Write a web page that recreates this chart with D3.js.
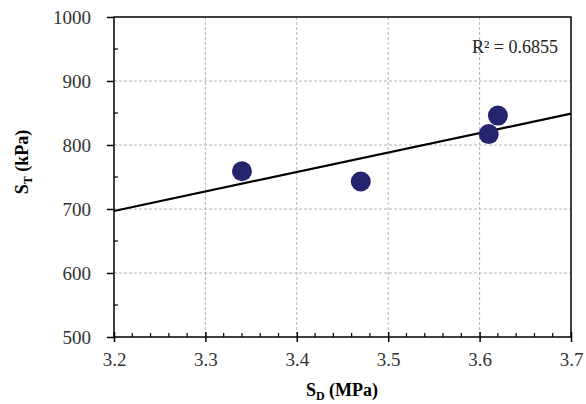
<!DOCTYPE html>
<html>
<head>
<meta charset="utf-8">
<script src="https://cdn.jsdelivr.net/npm/d3@7"></script>
<style>
  body { margin: 0; background: #fff; }
</style>
</head>
<body>
<svg width="586" height="404"></svg>
<script>
// data
var sd = [3.34, 3.47, 3.61, 3.62];     // MPa
var st = [759, 743, 817, 846];         // kPa
var xTicks = [3.2, 3.3, 3.4, 3.5, 3.6, 3.7];
var yTicks = [500, 600, 700, 800, 900, 1000];
var r2Label = "R² = 0.6855";

var serif = "'Liberation Serif', 'Times New Roman', serif";
var svg = d3.select("svg"),
    mLeft = 114, mRight = 571, mTop = 17, mBottom = 337;

var x = d3.scaleLinear().domain([3.2, 3.7]).range([mLeft, mRight]),
    y = d3.scaleLinear().domain([500, 1000]).range([mBottom, mTop]);

// grid
svg.append("g").selectAll("line")
  .data(xTicks.slice(1, -1)).enter().append("line")
  .attr("x1", d => x(d)).attr("x2", d => x(d))
  .attr("y1", mTop).attr("y2", mBottom)
  .attr("stroke", "#b4b4b4").attr("stroke-dasharray", "3,2");
svg.append("g").selectAll("line")
  .data(yTicks.slice(1, -1)).enter().append("line")
  .attr("x1", mLeft).attr("x2", mRight)
  .attr("y1", d => y(d)).attr("y2", d => y(d))
  .attr("stroke", "#b4b4b4").attr("stroke-dasharray", "3,2");

// frame
svg.append("rect").attr("x", mLeft).attr("y", mTop)
  .attr("width", mRight - mLeft).attr("height", mBottom - mTop)
  .attr("fill", "none").attr("stroke", "#000").attr("stroke-width", 1.5);

// minor ticks (inside)
var xMinor = d3.range(3.22, 3.7, 0.02).filter(function(v){ return Math.abs(v*10 - Math.round(v*10)) > 0.01; });
svg.append("g").selectAll("line")
  .data(xMinor).enter().append("line")
  .attr("x1", d => x(d)).attr("x2", d => x(d))
  .attr("y1", mBottom).attr("y2", mBottom - 4)
  .attr("stroke", "#000").attr("stroke-width", 1.2);
var yMinor = [550, 650, 750, 850, 950];
svg.append("g").selectAll("line")
  .data(yMinor).enter().append("line")
  .attr("x1", mLeft).attr("x2", mLeft + 4)
  .attr("y1", d => y(d)).attr("y2", d => y(d))
  .attr("stroke", "#000").attr("stroke-width", 1.2);

// axes with major ticks
var xAxis = svg.append("g").attr("transform", "translate(0," + mBottom + ")")
  .call(d3.axisBottom(x).tickValues(xTicks).tickFormat(d3.format(".1f")).tickSizeInner(5).tickSizeOuter(0));
xAxis.selectAll(".tick line").attr("y1", -5).attr("stroke-width", 1.5);
var yAxis = svg.append("g").attr("transform", "translate(" + mLeft + ",0)")
  .call(d3.axisLeft(y).tickValues(yTicks).tickFormat(d3.format("d")).tickSizeInner(7).tickSizeOuter(0));
yAxis.selectAll(".tick line").attr("stroke-width", 1.5);
svg.selectAll(".domain").remove();
svg.selectAll(".tick text")
  .style("font-family", serif).style("font-size", "19px").attr("fill", "#333");
xAxis.selectAll(".tick text").attr("dy", null).attr("y", 29);
yAxis.selectAll(".tick text").attr("x", -23).attr("dy", "0.34em");

// linear trendline (least squares)
var mx = d3.mean(sd), my = d3.mean(st);
var sxy = d3.sum(sd, (v, i) => (v - mx) * (st[i] - my));
var sxx = d3.sum(sd, v => (v - mx) * (v - mx));
var slope = sxy / sxx, icpt = my - slope * mx;

svg.append("line")
  .attr("x1", x(3.2)).attr("y1", y(icpt + slope * 3.2))
  .attr("x2", x(3.7)).attr("y2", y(icpt + slope * 3.7))
  .attr("stroke", "#000").attr("stroke-width", 2.2);

// points
svg.append("g").selectAll("circle")
  .data(sd).enter().append("circle")
  .attr("cx", d => x(d)).attr("cy", (d, i) => y(st[i]))
  .attr("r", 10).attr("fill", "#25256f");

svg.append("text")
  .attr("x", 558).attr("y", 53).attr("text-anchor", "end")
  .style("font-family", serif).style("font-size", "18px").attr("fill", "#222")
  .text(r2Label);

// axis titles
var xt = svg.append("text").attr("x", 342).attr("y", 396)
  .attr("text-anchor", "middle")
  .style("font-family", serif).style("font-size", "18px").style("font-weight", "bold");
xt.append("tspan").text("S");
xt.append("tspan").style("font-size", "12px").attr("dy", 4).text("D");
xt.append("tspan").attr("dy", -4).text(" (MPa)");

var yt = svg.append("text").attr("transform", "translate(28,162) rotate(-90)")
  .attr("text-anchor", "middle")
  .style("font-family", serif).style("font-size", "18px").style("font-weight", "bold");
yt.append("tspan").text("S");
yt.append("tspan").style("font-size", "12px").attr("dy", 4).text("T");
yt.append("tspan").attr("dy", -4).text(" (kPa)");
</script>
</body>
</html>
